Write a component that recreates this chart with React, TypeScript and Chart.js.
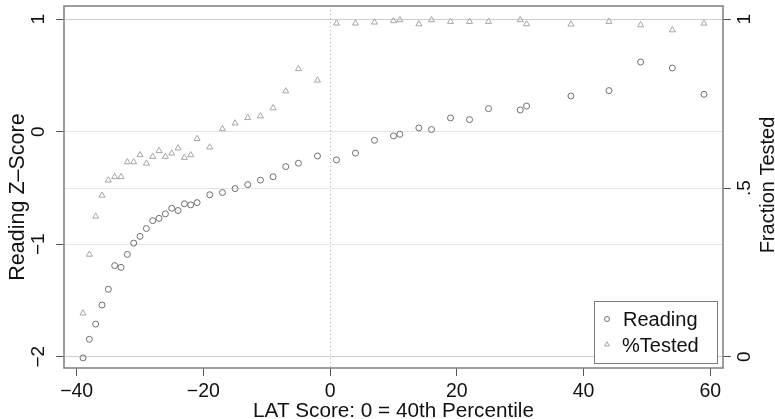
import { useEffect, useRef } from "react";
import { Chart, registerables } from "chart.js";

Chart.register(...registerables);

// LAT score relative to the 40th percentile cut-off
const latScores = [
  -39, -38, -37, -36, -35, -34, -33, -32, -31, -30, -29, -28, -27, -26, -25, -24, -23, -22, -21,
  -19, -17, -15, -13, -11, -9, -7, -5, -2, 1, 4, 7, 10, 11, 14, 16, 19, 22, 25, 30, 31, 38, 44, 49, 54, 59,
];

// Mean reading z-score at each LAT score
const readingZ = [
  -2.01, -1.845, -1.71, -1.54, -1.4, -1.19, -1.205, -1.09, -0.99, -0.93, -0.86, -0.79, -0.77, -0.73, -0.68,
  -0.7, -0.64, -0.65, -0.63, -0.56, -0.54, -0.505, -0.47, -0.43, -0.4, -0.31, -0.28, -0.215, -0.25, -0.19,
  -0.076, -0.037, -0.022, 0.034, 0.02, 0.123, 0.108, 0.206, 0.194, 0.229, 0.318, 0.366, 0.62, 0.567, 0.333,
];

// Share of pupils tested at each LAT score
const fractionTested = [
  0.129, 0.303, 0.416, 0.478, 0.523, 0.533, 0.533, 0.577, 0.577, 0.598, 0.573, 0.593, 0.61, 0.593, 0.603,
  0.618, 0.59, 0.598, 0.646, 0.621, 0.675, 0.692, 0.708, 0.713, 0.737, 0.787, 0.853, 0.819, 0.988, 0.988,
  0.991, 0.995, 0.998, 0.986, 0.998, 0.993, 0.993, 0.993, 0.998, 0.986, 0.985, 0.993, 0.983, 0.968, 0.988,
];

const xTicks = [-40, -20, 0, 20, 40, 60];
const xTickLabels = ["\u221240", "\u221220", "0", "20", "40", "60"];
const readingTicks = [-2, -1, 0, 1];
const readingTickLabels = ["\u22122", "\u22121", "0", "1"];
const testedTicks = [0, 0.5, 1];
const testedTickLabels = ["0", ".5", "1"];

const seriesNames = ["Reading", "%Tested"];
const xTitle = "LAT Score: 0 = 40th Percentile";
const leftTitle = "Reading Z\u2013Score";
const rightTitle = "Fraction Tested";

const CIRCLE_COLOR = "#6f6f6f";
const TRIANGLE_COLOR = "#a6a6a6";
const FONT = "'Liberation Sans', Arial, Helvetica, sans-serif";

function drawTriangle(ctx: CanvasRenderingContext2D, x: number, y: number, r: number) {
  ctx.beginPath();
  for (let k = 0; k < 3; k++) {
    const a = (k * 2 * Math.PI) / 3;
    const px = x + Math.sin(a) * r;
    const py = y - Math.cos(a) * r;
    if (k === 0) ctx.moveTo(px, py);
    else ctx.lineTo(px, py);
  }
  ctx.closePath();
  ctx.stroke();
}

const decorations = {
  id: "decorations",
  beforeDatasetsDraw(chart: any) {
    const { ctx, chartArea } = chart;
    const x0 = chart.scales.x.getPixelForValue(0);
    ctx.save();
    ctx.strokeStyle = "#b4b4b4";
    ctx.lineWidth = 1;
    ctx.setLineDash([1, 3]);
    ctx.beginPath();
    ctx.moveTo(Math.round(x0) + 0.5, chartArea.top);
    ctx.lineTo(Math.round(x0) + 0.5, chartArea.bottom);
    ctx.stroke();
    ctx.restore();
  },
  afterDraw(chart: any) {
    const { ctx, chartArea } = chart;
    const sx = chart.scales.x;
    const sy = chart.scales.y;
    const sy1 = chart.scales.y1;
    ctx.save();

    // plot frame
    ctx.strokeStyle = "#858585";
    ctx.lineWidth = 1.6;
    ctx.strokeRect(chartArea.left, chartArea.top, chartArea.right - chartArea.left, chartArea.bottom - chartArea.top);

    ctx.fillStyle = "#111";

    // x tick labels
    ctx.font = `19.5px ${FONT}`;
    ctx.textAlign = "center";
    ctx.textBaseline = "alphabetic";
    xTicks.forEach((v, i) => {
      ctx.fillText(xTickLabels[i], sx.getPixelForValue(v), 397);
    });

    // rotated y tick labels
    const rotated = (text: string, x: number, y: number, font: string) => {
      ctx.save();
      ctx.font = font;
      ctx.translate(x, y);
      ctx.rotate(-Math.PI / 2);
      ctx.textAlign = "center";
      ctx.textBaseline = "alphabetic";
      ctx.fillText(text, 0, 0);
      ctx.restore();
    };
    readingTicks.forEach((v, i) => rotated(readingTickLabels[i], 44, sy.getPixelForValue(v), `19px ${FONT}`));
    testedTicks.forEach((v, i) => rotated(testedTickLabels[i], 750, sy1.getPixelForValue(v), `19px ${FONT}`));

    // axis titles
    rotated(leftTitle, 24, 197, `21.5px ${FONT}`);
    rotated(rightTitle, 774, 185, `20px ${FONT}`);
    ctx.font = `20.7px ${FONT}`;
    ctx.textAlign = "center";
    ctx.fillText(xTitle, (chartArea.left + chartArea.right) / 2, 417);

    // legend
    const lx = chartArea.right - 129;
    const ly = chartArea.bottom - 67;
    ctx.fillStyle = "#fff";
    ctx.fillRect(lx, ly, 123, 62);
    ctx.strokeStyle = "#7a7a7a";
    ctx.lineWidth = 1;
    ctx.strokeRect(lx + 0.5, ly + 0.5, 123, 62);

    ctx.strokeStyle = CIRCLE_COLOR;
    ctx.beginPath();
    ctx.arc(lx + 13, ly + 18, 2.5, 0, Math.PI * 2);
    ctx.stroke();
    ctx.strokeStyle = TRIANGLE_COLOR;
    drawTriangle(ctx, lx + 13, ly + 43.5, 2.8);

    ctx.fillStyle = "#111";
    ctx.font = `20px ${FONT}`;
    ctx.textAlign = "left";
    ctx.fillText(seriesNames[0], lx + 29, ly + 25);
    ctx.fillText(seriesNames[1], lx + 28, ly + 51);

    ctx.restore();
  },
};

export default function App() {
  const canvasRef = useRef<HTMLCanvasElement | null>(null);

  useEffect(() => {
    const canvas = canvasRef.current;
    if (!canvas) return;

    const tickMark = { tickColor: "#555", tickLength: 8, tickWidth: 1 };

    const chart = new Chart(canvas, {
      type: "scatter",
      data: {
        datasets: [
          {
            label: seriesNames[0],
            data: latScores.map((x, i) => ({ x, y: readingZ[i] })),
            yAxisID: "y",
            pointStyle: "circle",
            pointRadius: 3,
            borderWidth: 1,
            borderColor: CIRCLE_COLOR,
            backgroundColor: "rgba(0,0,0,0)",
          },
          {
            label: seriesNames[1],
            data: latScores.map((x, i) => ({ x, y: fractionTested[i] })),
            yAxisID: "y1",
            pointStyle: "triangle",
            pointRadius: 3.5,
            borderWidth: 1,
            borderColor: TRIANGLE_COLOR,
            backgroundColor: "rgba(0,0,0,0)",
          },
        ],
      },
      options: {
        animation: false,
        responsive: false,
        devicePixelRatio: 1,
        layout: { padding: { top: 6, left: 0, right: 0, bottom: 0 } },
        plugins: {
          legend: { display: false },
          tooltip: { enabled: false },
        },
        scales: {
          x: {
            type: "linear",
            min: -42,
            max: 62,
            afterBuildTicks: (s: any) => {
              s.ticks = xTicks.map((value) => ({ value }));
            },
            afterFit: (s: any) => {
              s.height = 51;
            },
            ticks: { display: false },
            grid: { drawOnChartArea: false, drawTicks: true, ...tickMark },
            border: { display: false },
          },
          y: {
            type: "linear",
            position: "left",
            min: -2.1,
            max: 1.118,
            afterBuildTicks: (s: any) => {
              s.ticks = readingTicks.map((value) => ({ value }));
            },
            afterFit: (s: any) => {
              s.width = 64;
            },
            ticks: { display: false },
            grid: { color: "rgba(0,0,0,0.1)", lineWidth: 1, drawTicks: true, ...tickMark },
            border: { display: false },
          },
          y1: {
            type: "linear",
            position: "right",
            min: -0.0333,
            max: 1.0393,
            afterBuildTicks: (s: any) => {
              s.ticks = testedTicks.map((value) => ({ value }));
            },
            afterFit: (s: any) => {
              s.width = 52;
            },
            ticks: { display: false },
            grid: { color: "rgba(0,0,0,0.1)", lineWidth: 1, drawTicks: true, ...tickMark },
            border: { display: false },
          },
        },
      },
      plugins: [decorations],
    } as any);

    return () => chart.destroy();
  }, []);

  return (
    <div style={{ position: "fixed", left: 0, top: 0, width: 775, height: 419, background: "#fff" }}>
      <canvas ref={canvasRef} width={775} height={419} />
    </div>
  );
}
